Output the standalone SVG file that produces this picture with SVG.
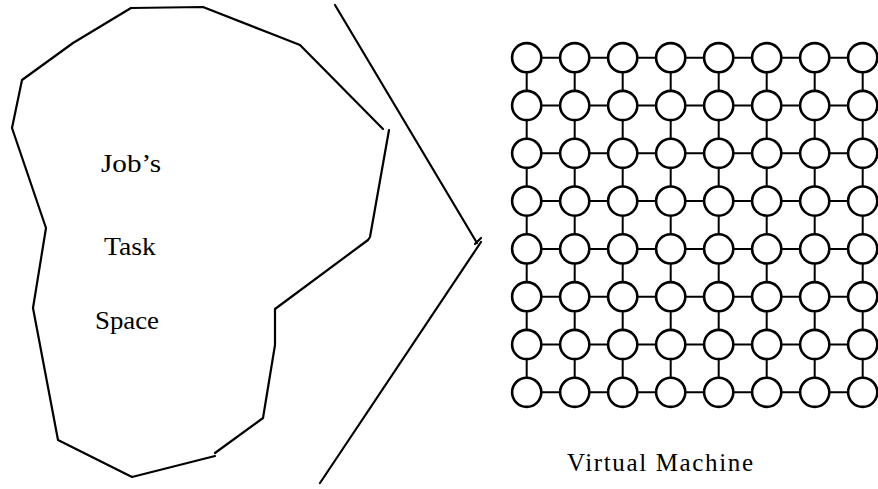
<svg xmlns="http://www.w3.org/2000/svg" width="878" height="489" viewBox="0 0 878 489">
<defs>
<style>
.ln{fill:none;stroke:#000;stroke-width:2.2;stroke-linecap:round;stroke-linejoin:round}
.cn{stroke:#000;stroke-width:2}
.nd{fill:#fff;stroke:#000;stroke-width:2.6}
.tx{font-family:"Liberation Serif","DejaVu Serif",serif;font-size:25px;fill:#000}
</style>
<circle id="n" r="14.6" class="nd"/>
</defs>
<rect width="878" height="489" fill="#fff"/>
<g id="task-space">
<path class="ln" d="M131,8 L203,7 L272,34 L300,45 L383,129"/>
<path class="ln" d="M389,130 L370,237 L368,240 L275,309 L275,345 L263,418 L215,453"/>
<path class="ln" d="M215,456 L132,477 L58,440 L33,308 L46,228 L12,128 L22,80 L73,43 L131,8"/>
<text class="tx" x="131" y="172" text-anchor="middle" textLength="60" lengthAdjust="spacingAndGlyphs">Job’s</text>
<text class="tx" x="130" y="255" text-anchor="middle" textLength="52" lengthAdjust="spacingAndGlyphs">Task</text>
<text class="tx" x="127" y="329" text-anchor="middle" textLength="64" lengthAdjust="spacingAndGlyphs">Space</text>
</g>
<g id="separator">
<path class="ln" d="M335,5 L477,243"/>
<path class="ln" d="M481,242 L320,483"/>
<path class="ln" d="M475,244 L481,238"/>
</g>
<g id="connectors">
<g id="h-links">
<path class="cn" d="M526.7,57.7H862.7M526.7,105.5H862.7M526.7,153.3H862.7M526.7,201.1H862.7M526.7,248.9H862.7M526.7,296.7H862.7M526.7,344.5H862.7M526.7,392.3H862.7"/>
</g>
<g id="v-links">
<path class="cn" d="M526.7,57.7V392.3M574.7,57.7V392.3M622.7,57.7V392.3M670.7,57.7V392.3M718.7,57.7V392.3M766.7,57.7V392.3M814.7,57.7V392.3M862.7,57.7V392.3"/>
</g>
</g>
<g id="virtual-machine">
<g id="row1"><use href="#n" x="526.7" y="57.7"/><use href="#n" x="574.7" y="57.7"/><use href="#n" x="622.7" y="57.7"/><use href="#n" x="670.7" y="57.7"/><use href="#n" x="718.7" y="57.7"/><use href="#n" x="766.7" y="57.7"/><use href="#n" x="814.7" y="57.7"/><use href="#n" x="862.7" y="57.7"/></g>
<g id="row2"><use href="#n" x="526.7" y="105.5"/><use href="#n" x="574.7" y="105.5"/><use href="#n" x="622.7" y="105.5"/><use href="#n" x="670.7" y="105.5"/><use href="#n" x="718.7" y="105.5"/><use href="#n" x="766.7" y="105.5"/><use href="#n" x="814.7" y="105.5"/><use href="#n" x="862.7" y="105.5"/></g>
<g id="row3"><use href="#n" x="526.7" y="153.3"/><use href="#n" x="574.7" y="153.3"/><use href="#n" x="622.7" y="153.3"/><use href="#n" x="670.7" y="153.3"/><use href="#n" x="718.7" y="153.3"/><use href="#n" x="766.7" y="153.3"/><use href="#n" x="814.7" y="153.3"/><use href="#n" x="862.7" y="153.3"/></g>
<g id="row4"><use href="#n" x="526.7" y="201.1"/><use href="#n" x="574.7" y="201.1"/><use href="#n" x="622.7" y="201.1"/><use href="#n" x="670.7" y="201.1"/><use href="#n" x="718.7" y="201.1"/><use href="#n" x="766.7" y="201.1"/><use href="#n" x="814.7" y="201.1"/><use href="#n" x="862.7" y="201.1"/></g>
<g id="row5"><use href="#n" x="526.7" y="248.9"/><use href="#n" x="574.7" y="248.9"/><use href="#n" x="622.7" y="248.9"/><use href="#n" x="670.7" y="248.9"/><use href="#n" x="718.7" y="248.9"/><use href="#n" x="766.7" y="248.9"/><use href="#n" x="814.7" y="248.9"/><use href="#n" x="862.7" y="248.9"/></g>
<g id="row6"><use href="#n" x="526.7" y="296.7"/><use href="#n" x="574.7" y="296.7"/><use href="#n" x="622.7" y="296.7"/><use href="#n" x="670.7" y="296.7"/><use href="#n" x="718.7" y="296.7"/><use href="#n" x="766.7" y="296.7"/><use href="#n" x="814.7" y="296.7"/><use href="#n" x="862.7" y="296.7"/></g>
<g id="row7"><use href="#n" x="526.7" y="344.5"/><use href="#n" x="574.7" y="344.5"/><use href="#n" x="622.7" y="344.5"/><use href="#n" x="670.7" y="344.5"/><use href="#n" x="718.7" y="344.5"/><use href="#n" x="766.7" y="344.5"/><use href="#n" x="814.7" y="344.5"/><use href="#n" x="862.7" y="344.5"/></g>
<g id="row8"><use href="#n" x="526.7" y="392.3"/><use href="#n" x="574.7" y="392.3"/><use href="#n" x="622.7" y="392.3"/><use href="#n" x="670.7" y="392.3"/><use href="#n" x="718.7" y="392.3"/><use href="#n" x="766.7" y="392.3"/><use href="#n" x="814.7" y="392.3"/><use href="#n" x="862.7" y="392.3"/></g>
<text class="tx" x="567" y="471" textLength="186" lengthAdjust="spacing">Virtual Machine</text>
</g>
</svg>
